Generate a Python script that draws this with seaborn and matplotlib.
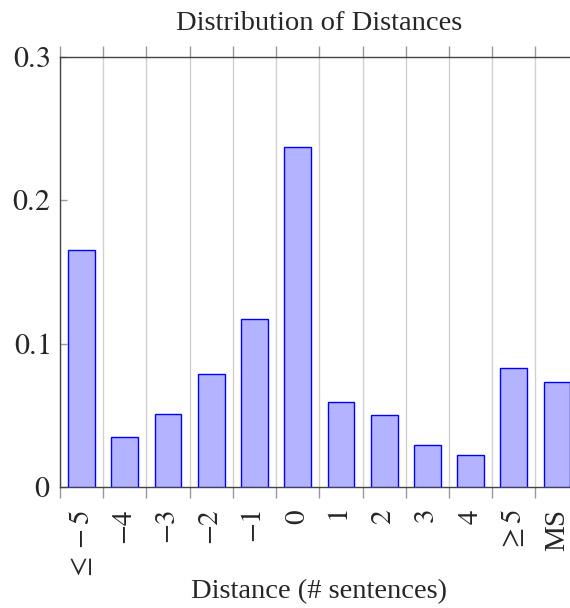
import seaborn as sns
import matplotlib.pyplot as plt
import pandas as pd
import numpy as np

# distances and their share
categories = ["≤ −5", "−4", "−3", "−2", "−1", "0", "1", "2", "3", "4", "≥ 5", "MS"]
tick_labels = [r"$\leq -5$", r"$-4$", r"$-3$", r"$-2$", r"$-1$", r"$0$", r"$1$", r"$2$",
               r"$3$", r"$4$", r"$\geq 5$", "MS"]
shares = [0.165, 0.035, 0.051, 0.079, 0.117, 0.237, 0.059, 0.050, 0.029, 0.022, 0.083, 0.073]
yticks = [0, 0.1, 0.2, 0.3]
ytick_labels = [r"$0$", r"$0.1$", r"$0.2$", r"$0.3$"]

df = pd.DataFrame({"distance": categories, "share": shares})

sns.set_style("white")
plt.rcParams['font.family'] = ['Liberation Serif', 'DejaVu Serif']
plt.rcParams['mathtext.fontset'] = 'stix'
plt.rcParams['font.size'] = 20.5

fig = plt.figure(figsize=(5.7, 6.08), dpi=100)
ax = fig.add_axes([60 / 570, 121 / 608, 518.6 / 570, 430 / 608])

sns.barplot(data=df, x="distance", y="share", order=categories, width=0.62,
            color="#b3b3ff", saturation=1, edgecolor="#0000ff", linewidth=1.0, ax=ax, zorder=3)

ax.set_xlim(-0.5, len(categories) - 0.5)
ax.set_ylim(0, 0.3)

# grid/ticks between bars, labels under bars
ax.set_xticks(np.arange(-0.5, len(categories), 1.0))
ax.set_xticklabels([])
ax.set_xticks(np.arange(len(categories)), tick_labels, minor=True, rotation=90)
ax.tick_params(axis='x', which='major', direction='out', length=8, width=1,
               color='#999999', bottom=True, top=True)
ax.tick_params(axis='x', which='minor', length=0, pad=16, labelsize=21)
ax.grid(axis='x', which='major', color='#d0d0d0', linewidth=1.0, zorder=0)

ax.set_yticks(yticks, ytick_labels)
ax.tick_params(axis='y', direction='in', length=5, width=1, color='#999999',
               left=True, right=True, pad=7, labelsize=21.5)

for side in ['left', 'top', 'bottom', 'right']:
    ax.spines[side].set_color('#444444')
    ax.spines[side].set_linewidth(1.0)

ax.set_ylabel("")
ax.set_xlabel("Distance (# sentences)", fontsize=20.5)
ax.xaxis.label.set_va('center')
ax.xaxis.set_label_coords(0.5, (487 - 592) / 430)

fig.text(319 / 570, 1 - 23 / 608, "Distribution of Distances", ha='center', va='center', fontsize=20.5)

plt.savefig('out.png', dpi=100, facecolor='white')
